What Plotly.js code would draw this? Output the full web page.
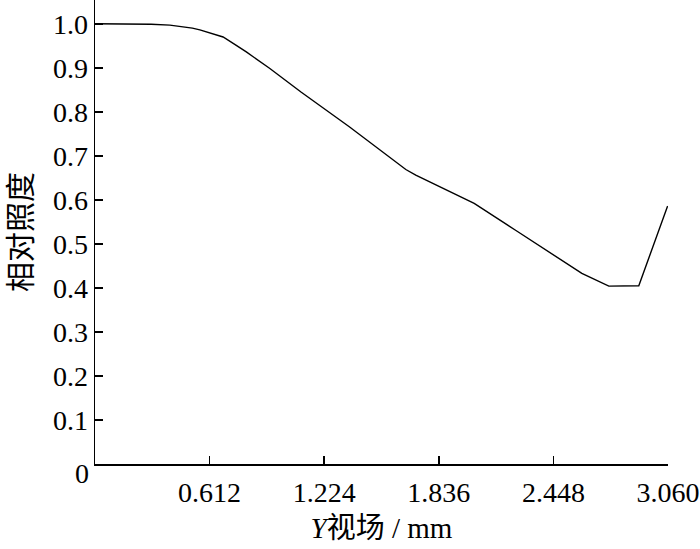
<!DOCTYPE html>
<html><head><meta charset="utf-8">
<script src="https://cdn.plot.ly/plotly-3.0.1.min.js"></script>
<style>html,body{margin:0;padding:0;background:#fff}#chart{width:700px;height:549px}</style>
</head><body><div id="chart"></div>
<script>
const fieldY = [0, 0.2, 0.3, 0.4, 0.46, 0.52, 0.56, 0.62, 0.684, 0.74, 0.808, 0.932, 1.1, 1.358, 1.536, 1.607, 1.66, 1.713, 1.85, 2.025, 2.246, 2.45, 2.60, 2.744, 2.904, 3.058];
const relIllum = [1.0, 0.9995, 0.999, 0.997, 0.994, 0.990, 0.986, 0.979, 0.970, 0.955, 0.936, 0.899, 0.845, 0.766, 0.709, 0.685, 0.669, 0.656, 0.628, 0.592, 0.531, 0.474, 0.433, 0.404, 0.405, 0.586];
const xTickVals = [0.612, 1.224, 1.836, 2.448, 3.060];
const xTickText = ["0.612", "1.224", "1.836", "2.448", "3.060"];
const yTickVals = [0.1, 0.2, 0.3, 0.4, 0.5, 0.6, 0.7, 0.8, 0.9, 1.0];
const yTickText = ["0.1", "0.2", "0.3", "0.4", "0.5", "0.6", "0.7", "0.8", "0.9", "1.0"];

const serif = '"Liberation Serif", "Times New Roman", "Noto Sans CJK SC", serif';
const trace = {
  x: fieldY, y: relIllum, type: 'scatter', mode: 'lines',
  line: {color: '#000', width: 1.4},
  hoverinfo: 'skip'
};
const layout = {
  width: 700, height: 549,
  margin: {l: 95, r: 32, t: 0, b: 85},
  paper_bgcolor: '#fff', plot_bgcolor: '#fff',
  showlegend: false,
  font: {family: serif, color: '#000', size: 28},
  xaxis: {
    range: [0, 3.06], tickvals: xTickVals, ticktext: xTickText,
    ticks: 'inside', ticklen: 8, tickwidth: 1.5, tickcolor: '#000',
    showline: true, linecolor: '#000', linewidth: 1.5,
    showgrid: false, zeroline: false,
    tickfont: {family: serif, size: 28},
    ticklabelstandoff: 3,
    title: {text: '<i>Y</i>视场 / mm', font: {family: serif, size: 29}, standoff: 10}
  },
  yaxis: {
    range: [0, 1.054], tickvals: yTickVals, ticktext: yTickText,
    ticks: 'inside', ticklen: 8, tickwidth: 1.5, tickcolor: '#000',
    showline: true, linecolor: '#000', linewidth: 1.5,
    showgrid: false, zeroline: false,
    tickfont: {family: serif, size: 28},
    title: {text: '相对照度', font: {family: serif, size: 30}, standoff: 12}
  },
  annotations: [{
    text: '0', x: 0, y: 0, xref: 'x', yref: 'y', showarrow: false,
    xanchor: 'right', yanchor: 'middle', xshift: -4, yshift: -9,
    font: {family: serif, size: 28, color: '#000'}
  }]
};
Plotly.newPlot('chart', [trace], layout, {displayModeBar: false, staticPlot: true});
</script></body></html>
